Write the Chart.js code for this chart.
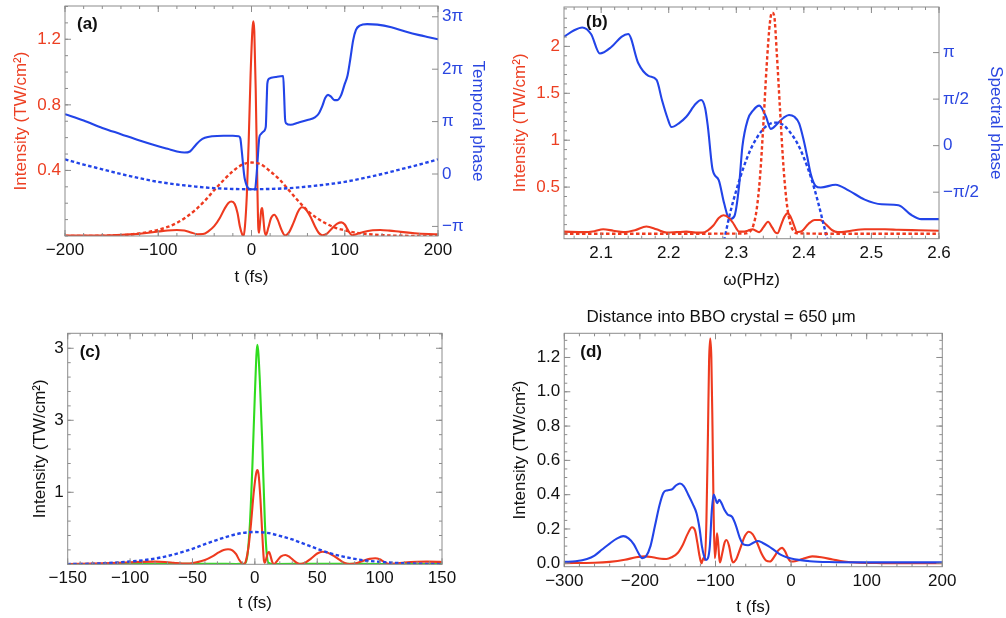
<!DOCTYPE html>
<html><head><meta charset="utf-8">
<script src="https://cdn.jsdelivr.net/npm/chart.js@4/dist/chart.umd.min.js"></script>
<style>
html,body{margin:0;padding:0;background:#fff;}
#wrap{position:relative;width:1006px;height:618px;overflow:hidden;background:#fff;}
canvas{position:absolute;display:block;}
</style></head><body>
<div id="wrap">
<canvas id="ca" width="500" height="300" style="left:0;top:0;width:500px;height:300px"></canvas>
<canvas id="cb" width="506" height="300" style="left:500px;top:0;width:506px;height:300px"></canvas>
<canvas id="cc" width="500" height="318" style="left:0;top:300px;width:500px;height:318px"></canvas>
<canvas id="cd" width="506" height="318" style="left:500px;top:300px;width:506px;height:318px"></canvas>
</div>
<script>
// ---------------- DATA ----------------
// Panel (a): temporal intensity (solid red) and phase (solid blue, units of pi)
const aRedT = [-200,-170,-150,-130,-115,-100,-90,-80,-72,-65,-58,-52,-46,-40,-34,-29,-25,-21.5,-18,-15,-12.5,-10,-8.5,-7,-5,-3,-1,1,2,3,4.5,6,7.3,8,9,10.5,11.5,12.5,14,15.5,18,21,24.5,28,32,36,40,45,50,54,58,63,68,72,76,81,87,92,96.5,100,104,108,113,120,130,138,148,160,175,190,200];
const aRedI = [0.002,0.003,0.005,0.01,0.017,0.027,0.034,0.037,0.033,0.022,0.011,0.012,0.03,0.06,0.11,0.165,0.2,0.21,0.195,0.14,0.06,0.01,0.0,0.06,0.25,0.58,0.98,1.26,1.31,1.25,0.9,0.4,0.05,0.02,0.07,0.16,0.17,0.12,0.03,0.005,0.05,0.11,0.13,0.1,0.04,0.003,0.02,0.08,0.15,0.175,0.165,0.12,0.06,0.02,0.005,0.015,0.05,0.075,0.083,0.07,0.03,0.005,0.012,0.025,0.035,0.037,0.033,0.025,0.017,0.012,0.01];
// input pulse intensity (dotted red in a, dotted blue in c)
const inT = [-200,-180,-160,-140,-130,-120,-110,-100,-90,-80,-70,-60,-50,-40,-30,-20,-10,0,10,20,30,40,50,60,70,80,90,100,110,120,140,160,180,200];
const inI = [0.0,0.0005,0.0015,0.005,0.009,0.016,0.025,0.038,0.055,0.08,0.115,0.16,0.215,0.28,0.34,0.395,0.435,0.448,0.437,0.395,0.345,0.28,0.215,0.155,0.11,0.076,0.05,0.035,0.022,0.014,0.005,0.0015,0.0005,0.0];
const aPhT = [-200,-180,-160,-140,-120,-100,-90,-80,-72,-66,-60,-55,-50,-42,-30,-20,-14,-12,-10.5,-8,-7,-3.5,0,3.8,5.5,6.5,8.4,10,12.7,15.3,16.3,17,19,26,34,35,36,37,42,50,60,68,72,76,79,82,85,89,92,96,100,103,106,109,112,116,124,135,150,165,180,190,200];
const aPh = [1.14,1.02,0.88,0.76,0.64,0.53,0.48,0.43,0.41,0.43,0.55,0.64,0.69,0.72,0.73,0.73,0.72,0.68,0.45,0.0,-0.11,-0.27,-0.29,-0.29,0.0,0.25,0.7,0.76,0.81,0.9,1.4,1.73,1.82,1.85,1.87,1.5,1.05,0.97,0.94,0.98,1.03,1.08,1.15,1.3,1.45,1.51,1.48,1.41,1.41,1.5,1.72,1.88,2.2,2.55,2.75,2.83,2.86,2.85,2.8,2.72,2.65,2.61,2.57];
const aChT = [-200,-180,-160,-140,-120,-100,-80,-60,-40,-20,0,20,40,60,80,100,120,140,160,180,200];
const aCh = [0.28,0.18,0.09,0.0,-0.08,-0.15,-0.2,-0.24,-0.27,-0.285,-0.29,-0.285,-0.27,-0.24,-0.2,-0.15,-0.08,0.0,0.09,0.18,0.28];

// Panel (b): spectra (TW/cm^2) and spectral phase (units of pi)
const bRedW = [2.045,2.075,2.09,2.103,2.118,2.133,2.15,2.167,2.182,2.197,2.212,2.226,2.24,2.25,2.258,2.266,2.274,2.281,2.288,2.295,2.3,2.304,2.31,2.317,2.324,2.329,2.334,2.34,2.347,2.353,2.358,2.361,2.366,2.371,2.376,2.38,2.385,2.39,2.397,2.407,2.416,2.424,2.433,2.442,2.45,2.456,2.47,2.49,2.52,2.54,2.57,2.6];
const bRedI = [0.025,0.02,0.03,0.05,0.035,0.02,0.04,0.08,0.05,0.015,0.02,0.025,0.015,0.015,0.04,0.09,0.17,0.2,0.18,0.12,0.06,0.025,0.025,0.035,0.05,0.035,0.02,0.07,0.13,0.07,0.015,0.008,0.09,0.18,0.22,0.19,0.1,0.02,0.03,0.11,0.15,0.15,0.1,0.04,0.02,0.02,0.035,0.05,0.05,0.045,0.04,0.035];
const bInW = [2.045,2.2,2.31,2.32,2.325,2.33,2.335,2.34,2.345,2.35,2.353,2.356,2.36,2.365,2.37,2.375,2.38,2.385,2.39,2.45,2.6];
const bInI = [0.003,0.003,0.005,0.024,0.087,0.254,0.6,1.16,1.8,2.27,2.36,2.33,1.92,1.29,0.7,0.31,0.11,0.03,0.008,0.003,0.003];
const bPhW = [2.045,2.06,2.072,2.085,2.098,2.115,2.13,2.14,2.155,2.17,2.182,2.19,2.198,2.204,2.215,2.226,2.24,2.248,2.254,2.258,2.265,2.274,2.282,2.29,2.297,2.304,2.309,2.317,2.325,2.334,2.344,2.351,2.36,2.37,2.378,2.386,2.393,2.4,2.405,2.41,2.417,2.425,2.447,2.466,2.49,2.515,2.54,2.558,2.574,2.6];
const bPh = [1.17,1.24,1.27,1.2,0.99,1.06,1.17,1.2,0.885,0.75,0.706,0.49,0.3,0.2,0.24,0.31,0.45,0.49,0.4,0.2,-0.26,-0.37,-0.62,-0.79,-0.76,-0.44,-0.01,0.28,0.38,0.43,0.31,0.18,0.23,0.3,0.33,0.31,0.24,0.05,-0.12,-0.3,-0.43,-0.45,-0.42,-0.48,-0.58,-0.63,-0.64,-0.74,-0.79,-0.79];
const bChW = [2.282,2.29,2.3,2.31,2.32,2.33,2.34,2.35,2.358,2.37,2.38,2.39,2.4,2.41,2.42,2.43,2.438];
const bCh = [-1.02,-0.75,-0.48,-0.25,-0.06,0.08,0.18,0.235,0.247,0.22,0.14,0.03,-0.13,-0.33,-0.58,-0.87,-1.1];

// Panel (c): second harmonic (green) with the pulses of (a)
const cGrT = [-150,-100,-60,-30,-15,-10,-8,-6,-4,-2,0,2,4,6,8,9.5,11,15,50,100,150];
const cGrI = [0.003,0.004,0.006,0.006,0.005,0.006,0.01,0.12,0.55,1.35,2.35,3.05,2.55,1.65,0.6,0.15,0.02,0.005,0.006,0.005,0.003];

// Panel (d): distance into BBO crystal = 650 um
const dRedT = [-300,-260,-240,-220,-205,-193,-183,-172,-165,-158,-150,-143,-137,-131,-127,-124,-121,-118.5,-116,-114,-112,-110,-108.5,-107,-105.5,-104,-102.5,-101,-99.5,-98,-96.5,-95,-94,-91,-88,-85.5,-82,-79,-77,-73,-67,-61,-56,-51,-45,-39,-33,-28,-22,-17,-12,-8,-4,0,5,15,28,40,55,70,90,120,200];
const dRedI = [0.001,0.003,0.008,0.02,0.035,0.04,0.035,0.026,0.025,0.035,0.06,0.11,0.17,0.21,0.19,0.12,0.04,0.0,0.03,0.02,0.25,0.75,1.18,1.31,1.2,0.8,0.3,0.03,0.08,0.175,0.12,0.03,0.005,0.06,0.12,0.136,0.1,0.03,0.005,0.02,0.09,0.16,0.184,0.17,0.12,0.055,0.015,0.01,0.04,0.075,0.09,0.07,0.03,0.01,0.012,0.025,0.04,0.035,0.022,0.01,0.003,0.001,0.0];
const dBluT = [-300,-285,-270,-260,-250,-240,-230,-222,-215,-208,-202,-197,-192,-186,-180,-174,-169,-164,-158,-152,-147,-142,-136,-130,-125,-121,-118,-115,-112.5,-110,-107.5,-105,-102.5,-100,-98,-95,-92,-88,-84,-78,-73,-68,-63,-57,-50,-44,-38,-30,-22,-14,-6,0,10,25,50,100,200];
const dBluI = [0.008,0.012,0.025,0.045,0.08,0.115,0.145,0.158,0.145,0.11,0.06,0.03,0.04,0.1,0.22,0.34,0.41,0.425,0.43,0.455,0.465,0.45,0.4,0.345,0.29,0.2,0.1,0.04,0.02,0.03,0.1,0.3,0.4,0.375,0.35,0.37,0.35,0.31,0.285,0.27,0.22,0.15,0.11,0.105,0.12,0.13,0.12,0.1,0.075,0.05,0.035,0.028,0.02,0.012,0.007,0.005,0.005];

// Tick labels
const aXTicks = [-200,-100,0,100,200];
const aYTicks = [0.4,0.8,1.2];
const aPhTicks = [-1,0,1,2,3];
const aPhLabels = ['\u2212\u03c0','0','\u03c0','2\u03c0','3\u03c0'];
const bXTicks = [2.1,2.2,2.3,2.4,2.5,2.6];
const bYTicks = [0.5,1,1.5,2];
const bPhTicks = [-0.5,0,0.5,1];
const bPhLabels = ['\u2212\u03c0/2','0','\u03c0/2','\u03c0'];
const cXTicks = [-150,-100,-50,0,50,100,150];
const cYTicks = [1,2,3];
const cYLabels = ['1','3','3'];
const dXTicks = [-300,-200,-100,0,100,200];
const dYTicks = [0,0.2,0.4,0.6,0.8,1.0,1.2];

// ---------------- STYLE / HELPERS ----------------
const FONT = '"Liberation Sans", Arial, Helvetica, sans-serif';
const RED = '#ee3a1f', BLUE = '#2244e8', GREEN = '#2fdc1e';
const RED_TXT = '#ec3f22', BLUE_TXT = '#2a46e0', BLACK = '#111';

const pts = (xs, ys) => xs.map((x, i) => ({x: x, y: ys[i]}));
const range = (a, b, s) => { const r = []; for (let v = a; v <= b + 1e-9; v += s) r.push(+v.toFixed(6)); return r; };
const signed = v => (v < 0 ? '\u2212' : '') + Math.abs(v);
const setTicks = vals => s => { s.ticks = vals.map(v => ({value: v})); };
const fixW = w => s => { s.width = w; s.paddingTop = 0; s.paddingBottom = 0; s.paddingLeft = 0; s.paddingRight = 0; };
const fixH = h => s => { s.height = h; s.paddingTop = 0; s.paddingBottom = 0; s.paddingLeft = 0; s.paddingRight = 0; };
const lbl = (vals, labels) => v => { const i = vals.findIndex(t => Math.abs(t - v) < 1e-9); return i >= 0 ? labels[i] : ''; };

function line(data, color, dotted, axis) {
  const d = {data: data, borderColor: color, backgroundColor: color, borderWidth: dotted ? 2.4 : 2.1,
    pointRadius: 0, fill: false, cubicInterpolationMode: 'monotone', borderDash: dotted ? [3.5, 2.5] : []};
  if (axis) d.yAxisID = axis;
  return d;
}

const frameTicks = {
  id: 'frameTicks',
  afterDatasetsDraw(chart, args, opts) {
    const ctx = chart.ctx, ca = chart.chartArea;
    ctx.save();
    ctx.strokeStyle = '#8c8c8c';
    ctx.lineWidth = 1;
    (opts.specs || []).forEach(sp => {
      const s = chart.scales[sp.scale];
      const draw = (v, len) => {
        const p = s.getPixelForValue(v);
        sp.sides.forEach(side => {
          ctx.beginPath();
          if (side === 'bottom') { if (p < ca.left - 0.5 || p > ca.right + 0.5) return; ctx.moveTo(p, ca.bottom); ctx.lineTo(p, ca.bottom - len); }
          if (side === 'top') { if (p < ca.left - 0.5 || p > ca.right + 0.5) return; ctx.moveTo(p, ca.top); ctx.lineTo(p, ca.top + len); }
          if (side === 'left') { if (p < ca.top - 0.5 || p > ca.bottom + 0.5) return; ctx.moveTo(ca.left, p); ctx.lineTo(ca.left + len, p); }
          if (side === 'right') { if (p < ca.top - 0.5 || p > ca.bottom + 0.5) return; ctx.moveTo(ca.right, p); ctx.lineTo(ca.right - len, p); }
          ctx.stroke();
        });
      };
      (sp.minor || []).forEach(v => draw(v, 3));
      (sp.major || []).forEach(v => draw(v, 6));
    });
    ctx.strokeRect(ca.left, ca.top, ca.right - ca.left, ca.bottom - ca.top);
    if (opts.tag) {
      ctx.fillStyle = BLACK;
      ctx.font = 'bold 17px ' + FONT;
      ctx.textBaseline = 'middle';
      ctx.textAlign = 'left';
      ctx.fillText(opts.tag, ca.left + opts.tagDx, ca.top + opts.tagDy);
    }
    ctx.restore();
  }
};

function xAxis(min, max, ticks, fmt, h, title, titlePad) {
  return {type: 'linear', position: 'bottom', min: min, max: max,
    grid: {display: false, drawTicks: false}, border: {display: false},
    afterBuildTicks: setTicks(ticks), afterFit: fixH(h),
    ticks: {color: BLACK, font: {family: FONT, size: 17}, padding: 4, autoSkip: false, maxRotation: 0, minRotation: 0, callback: fmt},
    title: {display: true, text: title, color: BLACK, font: {family: FONT, size: 17}, padding: {top: titlePad, bottom: titlePad}}};
}
function yAxis(pos, min, max, ticks, fmt, w, title, titlePad, color, tcolor) {
  return {type: 'linear', position: pos, min: min, max: max,
    grid: {display: false, drawTicks: false, drawOnChartArea: false}, border: {display: false},
    afterBuildTicks: setTicks(ticks), afterFit: fixW(w),
    ticks: {color: tcolor, font: {family: FONT, size: 17}, padding: 4, autoSkip: false, callback: fmt},
    title: {display: true, text: title, color: color, font: {family: FONT, size: 17}, padding: {top: titlePad, bottom: 0}}};
}
const base = (layoutPad) => ({responsive: false, animation: false, devicePixelRatio: 1,
  layout: {padding: layoutPad}, plugins: {legend: {display: false}, tooltip: {enabled: false}}});

// ---------------- PANEL (a) ----------------
(function () {
  const o = base({top: 6, left: 0, right: 0, bottom: 0});
  o.scales = {
    x: xAxis(-200, 200, aXTicks, signed, 64, 't (fs)', 12),
    y: yAxis('left', 0, 1.403, aYTicks, v => v.toFixed(1), 65, 'Intensity (TW/cm\u00b2)', 11.5, RED_TXT, RED_TXT),
    y2: yAxis('right', -1.183, 3.206, aPhTicks, lbl(aPhTicks, aPhLabels), 62, 'Temporal phase', 12, BLUE_TXT, BLUE_TXT)
  };
  o.plugins.frameTicks = {tag: '(a)', tagDx: 12, tagDy: 18, specs: [
    {scale: 'x', sides: ['bottom', 'top'], major: aXTicks, minor: range(-200, 200, 20)},
    {scale: 'y', sides: ['left'], major: aYTicks, minor: range(0, 1.4, 0.1)},
    {scale: 'y2', sides: ['right'], major: aPhTicks, minor: []}]};
  new Chart(document.getElementById('ca'), {type: 'line', plugins: [frameTicks], options: o, data: {datasets: [
    line(pts(aChT, aCh), BLUE, true, 'y2'),
    line(pts(inT, inI), RED, true, 'y'),
    line(pts(aPhT, aPh), BLUE, false, 'y2'),
    line(pts(aRedT, aRedI), RED, false, 'y')]}});
})();

// ---------------- PANEL (b) ----------------
(function () {
  const o = base({top: 7, left: 0, right: 0, bottom: 0});
  o.scales = {
    x: xAxis(2.045, 2.6, bXTicks, v => v.toFixed(1), 61.3, '\u03c9(PHz)', 9.7),
    y: yAxis('left', -0.05, 2.42, bYTicks, v => String(v), 64, 'Intensity (TW/cm\u00b2)', 10.5, RED_TXT, RED_TXT),
    y2: yAxis('right', -1.0, 1.49, bPhTicks, lbl(bPhTicks, bPhLabels), 67, 'Spectral phase', 0, BLUE_TXT, BLUE_TXT)
  };
  o.plugins.frameTicks = {tag: '(b)', tagDx: 22, tagDy: 15, specs: [
    {scale: 'x', sides: ['bottom', 'top'], major: bXTicks, minor: range(2.06, 2.6, 0.02)},
    {scale: 'y', sides: ['left'], major: bYTicks, minor: range(0, 2.4, 0.1)},
    {scale: 'y2', sides: ['right'], major: bPhTicks, minor: []}]};
  new Chart(document.getElementById('cb'), {type: 'line', plugins: [frameTicks], options: o, data: {datasets: [
    line(pts(bInW, bInI), RED, true, 'y'),
    line(pts(bChW, bCh), BLUE, true, 'y2'),
    line(pts(bRedW, bRedI), RED, false, 'y'),
    line(pts(bPhW, bPh), BLUE, false, 'y2')]}});
})();

// ---------------- PANEL (c) ----------------
(function () {
  const o = base({top: 33.3, left: 0, right: 58, bottom: 0});
  o.scales = {
    x: xAxis(-150, 150, cXTicks, signed, 53.7, 't (fs)', 4.3),
    y: yAxis('left', 0, 3.208, cYTicks, lbl(cYTicks, cYLabels), 67.7, 'Intensity (TW/cm\u00b2)', 30.5, BLACK, BLACK)
  };
  o.plugins.frameTicks = {tag: '(c)', tagDx: 12, tagDy: 19, specs: [
    {scale: 'x', sides: ['bottom', 'top'], major: cXTicks, minor: range(-150, 150, 10)},
    {scale: 'y', sides: ['left', 'right'], major: cYTicks, minor: range(0, 3.2, 0.2)}]};
  new Chart(document.getElementById('cc'), {type: 'line', plugins: [frameTicks], options: o, data: {datasets: [
    line(pts(inT, inI), BLUE, true, 'y'),
    line(pts(aRedT, aRedI), RED, false, 'y'),
    line(pts(cGrT, cGrI), GREEN, false, 'y')]}});
})();

// ---------------- PANEL (d) ----------------
(function () {
  const o = base({top: 0, left: 0, right: 63.7, bottom: 0});
  o.plugins.title = {display: true, text: 'Distance into BBO crystal = 650 \u03bcm', color: BLACK,
    font: {family: FONT, size: 17, weight: 'normal'}, padding: {top: 6.8, bottom: 6.1}};
  o.scales = {
    x: xAxis(-300, 200, dXTicks, signed, 51.3, 't (fs)', 0),
    y: yAxis('left', -0.02, 1.341, dYTicks, v => v.toFixed(1), 64.3, 'Intensity (TW/cm\u00b2)', 9.8, BLACK, BLACK)
  };
  o.plugins.frameTicks = {tag: '(d)', tagDx: 16, tagDy: 19, specs: [
    {scale: 'x', sides: ['bottom', 'top'], major: dXTicks, minor: range(-300, 200, 20)},
    {scale: 'y', sides: ['left', 'right'], major: dYTicks, minor: range(0, 1.3, 0.05)}]};
  new Chart(document.getElementById('cd'), {type: 'line', plugins: [frameTicks], options: o, data: {datasets: [
    line(pts(dBluT, dBluI), BLUE, false, 'y'),
    line(pts(dRedT, dRedI), RED, false, 'y')]}});
})();
</script>
</body></html>
